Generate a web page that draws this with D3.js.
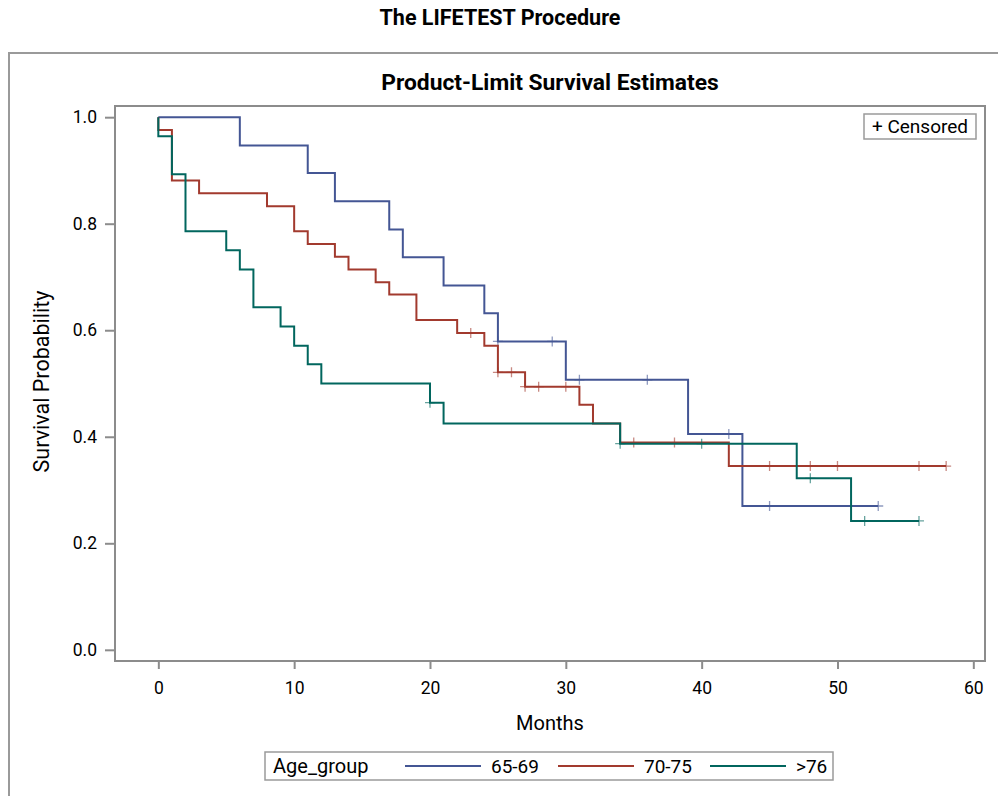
<!DOCTYPE html>
<html>
<head>
<meta charset="utf-8">
<script src="https://cdn.jsdelivr.net/npm/d3@7"></script>
<style>
  body { margin: 0; background: #fff; }
  text { font-family: Roboto, "Liberation Sans", Arial, sans-serif; fill: #000; }
</style>
</head>
<body>
<div id="chart"></div>
<script>
// survival steps
var groups = ["65-69", "70-75", ">76"];
var colors = ["#445694", "#A23A2E", "#01665E"];

var blueTimes = [0, 6, 11, 13, 17, 18, 21, 24, 25, 30, 39, 43];
var blueSurv = [1, 0.947, 0.895, 0.842, 0.789, 0.737, 0.684, 0.632, 0.579, 0.507, 0.405, 0.270];
var blueEnd = 53;
var blueCensored = [25, 29, 31, 36, 42, 45, 53];

var redTimes = [0, 0, 1, 3, 8, 10, 11, 13, 14, 16, 17, 19, 22, 24, 25, 27, 31, 32, 34, 42];
var redSurv = [1, 0.976, 0.881, 0.857, 0.833, 0.786, 0.762, 0.738, 0.714, 0.690, 0.667, 0.619, 0.595, 0.571, 0.521, 0.494, 0.460, 0.425, 0.389, 0.345];
var redEnd = 58;
var redCensored = [23, 25, 26, 27, 28, 30, 35, 38, 45, 48, 50, 56, 58];

var greenTimes = [0, 0, 1, 2, 5, 6, 7, 9, 10, 11, 12, 20, 21, 34, 47, 51];
var greenSurv = [1, 0.964, 0.893, 0.786, 0.750, 0.714, 0.643, 0.607, 0.571, 0.536, 0.500, 0.464, 0.425, 0.387, 0.322, 0.242];
var greenEnd = 56;
var greenCensored = [20, 34, 40, 48, 52, 56];

var xTicks = [0, 10, 20, 30, 40, 50, 60];
var yTicks = [0, 0.2, 0.4, 0.6, 0.8, 1.0];

var series = [
  {name: groups[0], color: colors[0], times: blueTimes, surv: blueSurv, end: blueEnd, cens: blueCensored},
  {name: groups[1], color: colors[1], times: redTimes, surv: redSurv, end: redEnd, cens: redCensored},
  {name: groups[2], color: colors[2], times: greenTimes, surv: greenSurv, end: greenEnd, cens: greenCensored}
];

var svgWidth = 998;
var svgHeight = 796;
var frame = {left: 115, right: 985, top: 106, bottom: 661};

var svg = d3.select("#chart")
  .append("svg")
  .attr("width", svgWidth)
  .attr("height", svgHeight);

// page title + outer box
svg.append("text")
  .attr("x", 500)
  .attr("y", 25)
  .attr("text-anchor", "middle")
  .attr("font-size", 21.5)
  .attr("font-weight", "bold")
  .text("The LIFETEST Procedure");

svg.append("rect")
  .attr("x", 9)
  .attr("y", 53)
  .attr("width", 1100)
  .attr("height", 900)
  .attr("fill", "none")
  .attr("stroke", "#9a9a9a")
  .attr("stroke-width", 2);

svg.append("text")
  .attr("x", (frame.left + frame.right) / 2)
  .attr("y", 90)
  .attr("text-anchor", "middle")
  .attr("font-size", 22.8)
  .attr("font-weight", "bold")
  .text("Product-Limit Survival Estimates");

// scales
var xScale = d3.scaleLinear()
  .domain([-3.19, 60.86])
  .range([frame.left, frame.right]);

var yScale = d3.scaleLinear()
  .domain([-0.021, 1.021])
  .range([frame.bottom, frame.top]);

// axes
var bottomAxis = d3.axisBottom(xScale).tickValues(xTicks).tickSize(8).tickPadding(13).tickFormat(d3.format("d"));
var leftAxis = d3.axisLeft(yScale).tickValues(yTicks).tickSize(10).tickPadding(8).tickFormat(d3.format(".1f"));

var gx = svg.append("g")
  .attr("transform", `translate(0, ${frame.bottom})`)
  .call(bottomAxis);
var gy = svg.append("g")
  .attr("transform", `translate(${frame.left}, 0)`)
  .call(leftAxis);

[gx, gy].forEach(function(g) {
  g.attr("font-size", 17.5).attr("font-family", null);
  g.select(".domain").remove();
  g.selectAll("line").attr("stroke", "#8c8c8c").attr("stroke-width", 2);
  g.selectAll("text").attr("fill", "#000");
});

svg.append("rect")
  .attr("x", frame.left)
  .attr("y", frame.top)
  .attr("width", frame.right - frame.left)
  .attr("height", frame.bottom - frame.top)
  .attr("fill", "none")
  .attr("stroke", "#8c8c8c")
  .attr("stroke-width", 2);

// axis labels
svg.append("text")
  .attr("x", (frame.left + frame.right) / 2)
  .attr("y", 730)
  .attr("text-anchor", "middle")
  .attr("font-size", 20)
  .text("Months");

svg.append("text")
  .attr("transform", `translate(49, ${(frame.top + frame.bottom) / 2 - 2}) rotate(-90)`)
  .attr("text-anchor", "middle")
  .attr("font-size", 21.5)
  .text("Survival Probability");

// survival curves
var line = d3.line()
  .x(d => xScale(d[0]))
  .y(d => yScale(d[1]))
  .curve(d3.curveStepAfter);

function survAt(s, t) {
  var v = s.surv[0];
  s.times.forEach(function(ti, i) { if (ti <= t) v = s.surv[i]; });
  return v;
}

series.forEach(function(s) {
  var pts = s.times.map((t, i) => [t, s.surv[i]]);
  pts.push([s.end, s.surv[s.surv.length - 1]]);

  svg.append("path")
    .datum(pts)
    .attr("fill", "none")
    .attr("stroke", s.color)
    .attr("stroke-width", 2)
    .attr("d", line);

  svg.append("g")
    .selectAll("path")
    .data(s.cens)
    .enter()
    .append("path")
    .attr("d", function(t) {
      var cx = xScale(t), cy = yScale(survAt(s, t));
      return `M${cx - 5},${cy}H${cx + 5}M${cx},${cy - 5}V${cy + 5}`;
    })
    .attr("stroke", s.color)
    .attr("stroke-opacity", 0.6)
    .attr("stroke-width", 1.3);
});

// censored inset
svg.append("rect")
  .attr("x", 864)
  .attr("y", 114)
  .attr("width", 112)
  .attr("height", 25)
  .attr("fill", "#fff")
  .attr("stroke", "#9a9a9a")
  .attr("stroke-width", 1.5);
svg.append("text")
  .attr("x", 920)
  .attr("y", 133)
  .attr("text-anchor", "middle")
  .attr("font-size", 19)
  .text("+ Censored");

// legend
var legend = svg.append("g");
legend.append("rect")
  .attr("x", 265)
  .attr("y", 752)
  .attr("width", 568)
  .attr("height", 28)
  .attr("fill", "none")
  .attr("stroke", "#9a9a9a")
  .attr("stroke-width", 1.5);
legend.append("text")
  .attr("x", 273)
  .attr("y", 773)
  .attr("font-size", 20)
  .text("Age_group");

var legendX = [405, 558, 710];
series.forEach(function(s, i) {
  legend.append("line")
    .attr("x1", legendX[i])
    .attr("x2", legendX[i] + 76)
    .attr("y1", 766)
    .attr("y2", 766)
    .attr("stroke", s.color)
    .attr("stroke-width", 2);
  legend.append("text")
    .attr("x", legendX[i] + 86)
    .attr("y", 773)
    .attr("font-size", 19)
    .text(s.name);
});
</script>
</body>
</html>
